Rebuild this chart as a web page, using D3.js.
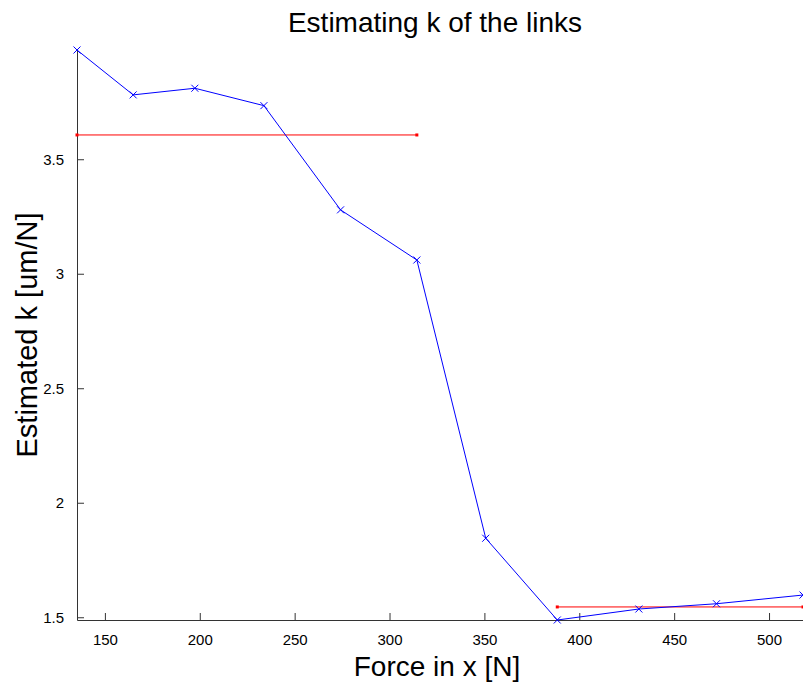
<!DOCTYPE html>
<html>
<head>
<meta charset="utf-8">
<script src="https://cdn.jsdelivr.net/npm/d3@7"></script>
<style>
  html, body { margin: 0; padding: 0; background: #fff; }
  svg { display: block; font-family: "Liberation Sans", Arial, Helvetica, sans-serif; }
</style>
</head>
<body>
<svg id="chart" width="803" height="684"></svg>
<script>
// ---- data ----
const forceX = [135.3, 164.9, 197.4, 233.8, 274.2, 314.4, 350.7, 388.4, 431.4, 472.3, 517.9];
const estK   = [3.977, 3.781, 3.810, 3.734, 3.279, 3.060, 1.845, 1.488, 1.536, 1.559, 1.597];
const meanHighRange = [135.3, 314.4];
const meanHighValue = 3.606;
const meanLowRange = [388.4, 517.9];
const meanLowValue = 1.545;
const xTicks = [150, 200, 250, 300, 350, 400, 450, 500];
const yTicks = [1.5, 2, 2.5, 3, 3.5];
const yTickLabels = ["1.5", "2", "2.5", "3", "3.5"];
const titleText = "Estimating k of the links";
const xLabelText = "Force in x [N]";
const yLabelText = "Estimated k [um/N]";

// ---- layout ----
const svg = d3.select("#chart");
const plotLeft = 77, plotRight = 803, plotTop = 50, plotBottom = 620;

const x = d3.scaleLinear().domain(d3.extent(forceX)).range([plotLeft, plotRight]);
const y = d3.scaleLinear().domain(d3.extent(estK)).range([plotBottom, plotTop]);

const axisColor = "#333";

// x axis (ticks inward)
const xAxis = svg.append("g")
  .attr("transform", `translate(0,${plotBottom})`)
  .call(d3.axisBottom(x).tickValues(xTicks).tickSizeInner(-7).tickSizeOuter(0).tickPadding(14).tickFormat(d3.format("d")));
xAxis.select(".domain").attr("stroke", axisColor);
xAxis.selectAll(".tick line").attr("stroke", axisColor);
xAxis.selectAll(".tick text").attr("font-size", 15).attr("fill", "#000")
  .attr("font-family", "'Liberation Sans', Arial, sans-serif");

// y axis (ticks inward)
const yAxis = svg.append("g")
  .attr("transform", `translate(${plotLeft},0)`)
  .call(d3.axisLeft(y).tickValues(yTicks).tickSizeInner(-7).tickSizeOuter(0).tickPadding(13)
    .tickFormat((d, i) => yTickLabels[i]));
yAxis.select(".domain").attr("stroke", axisColor);
yAxis.selectAll(".tick line").attr("stroke", axisColor);
yAxis.selectAll(".tick text").attr("font-size", 15).attr("fill", "#000")
  .attr("font-family", "'Liberation Sans', Arial, sans-serif");

// mean lines (red)
function meanLine(range, value) {
  const p = range.map(v => [x(v), y(value)]);
  svg.append("path")
    .attr("d", d3.line()(p))
    .attr("fill", "none").attr("stroke", "#ff0000").attr("stroke-width", 1);
  svg.selectAll(null).data(p).enter().append("rect")
    .attr("x", d => d[0] - 1.5).attr("y", d => d[1] - 1.5)
    .attr("width", 3).attr("height", 3).attr("fill", "#ff0000");
}
meanLine(meanHighRange, meanHighValue);
meanLine(meanLowRange, meanLowValue);

// blue data line
const pts = forceX.map((v, i) => [x(v), y(estK[i])]);
svg.append("path")
  .attr("d", d3.line()(pts))
  .attr("fill", "none").attr("stroke", "#0000ff").attr("stroke-width", 1);

// x markers
const m = 3.5;
svg.selectAll(".mk").data(pts).enter().append("path")
  .attr("class", "mk")
  .attr("d", d => `M${d[0]-m},${d[1]-m}L${d[0]+m},${d[1]+m}M${d[0]-m},${d[1]+m}L${d[0]+m},${d[1]-m}`)
  .attr("stroke", "#0000ff").attr("stroke-width", 1).attr("fill", "none");

// title & labels
svg.append("text")
  .attr("x", 435).attr("y", 32)
  .attr("text-anchor", "middle").attr("font-size", 28).attr("fill", "#000")
  .text(titleText);

svg.append("text")
  .attr("x", 437).attr("y", 676)
  .attr("text-anchor", "middle").attr("font-size", 28).attr("fill", "#000")
  .text(xLabelText);

svg.append("text")
  .attr("transform", `translate(37,${(plotTop + plotBottom) / 2}) rotate(-90)`)
  .attr("text-anchor", "middle").attr("font-size", 29).attr("fill", "#000")
  .text(yLabelText);
</script>
</body>
</html>
